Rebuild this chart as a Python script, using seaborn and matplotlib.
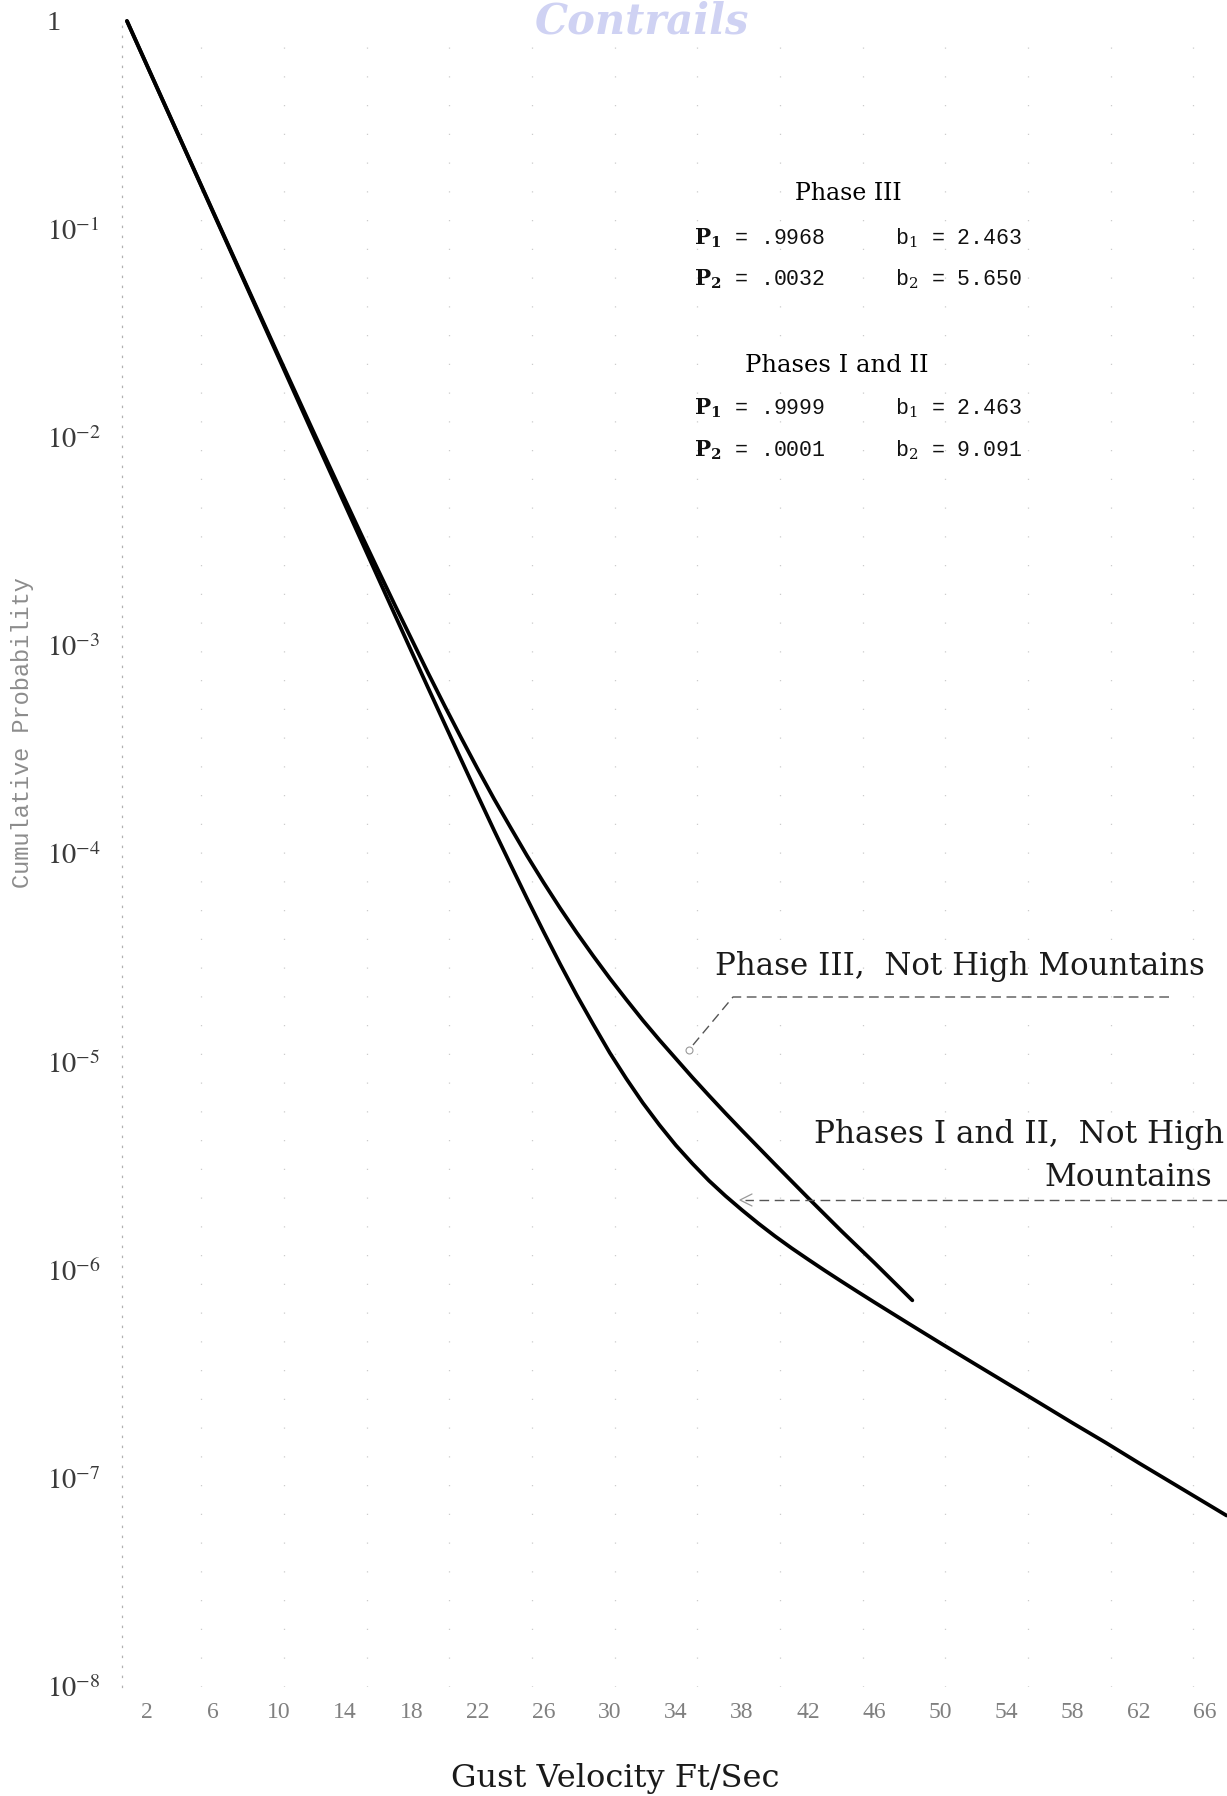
import numpy as np
import pandas as pd
import matplotlib
matplotlib.use("Agg")
import matplotlib.pyplot as plt
import seaborn as sns
from matplotlib.transforms import Affine2D
from matplotlib.lines import Line2D

# ---------------- data ----------------
velocity_phase3 = [0.8, 2, 4, 6, 8, 10, 12, 13, 14, 15, 16, 17, 18, 19, 20, 21, 22,
                   23, 24, 25, 26, 27, 28, 29, 30, 31, 32, 33, 34, 35, 36, 37, 38,
                   40, 42, 44, 46, 48.3]
prob_phase3 = [1.0, 0.615, 0.274, 0.122, 0.0545, 0.0244, 0.0110, 7.41e-3, 5.00e-3,
               3.38e-3, 2.30e-3, 1.57e-3, 1.08e-3, 7.43e-4, 5.17e-4, 3.63e-4,
               2.57e-4, 1.84e-4, 1.34e-4, 9.80e-5, 7.29e-5, 5.49e-5, 4.19e-5,
               3.24e-5, 2.53e-5, 2.00e-5, 1.59e-5, 1.28e-5, 1.04e-5, 8.45e-6,
               6.92e-6, 5.69e-6, 4.70e-6, 3.23e-6, 2.23e-6, 1.55e-6, 1.09e-6, 7.19e-7]

velocity_phase12 = [0.8, 2, 4, 6, 8, 10, 12, 14, 16, 17, 18, 19, 20, 21, 22, 23, 24,
                    25, 26, 27, 28, 29, 30, 31, 32, 33, 34, 35, 36, 37, 38, 39, 40,
                    41, 42, 43, 44, 45, 46, 48, 50, 52, 54, 56, 58, 60, 62, 64, 66,
                    67.3]
prob_phase12 = [1.0, 0.614, 0.273, 0.121, 0.0538, 0.0239, 0.0106, 4.73e-3, 2.11e-3,
                1.41e-3, 9.42e-4, 6.31e-4, 4.24e-4, 2.85e-4, 1.92e-4, 1.30e-4,
                8.89e-5, 6.10e-5, 4.23e-5, 2.96e-5, 2.10e-5, 1.52e-5, 1.11e-5,
                8.34e-6, 6.38e-6, 5.00e-6, 3.99e-6, 3.26e-6, 2.70e-6, 2.28e-6,
                1.95e-6, 1.68e-6, 1.46e-6, 1.28e-6, 1.13e-6, 1.00e-6, 8.88e-7,
                7.90e-7, 7.04e-7, 5.61e-7, 4.48e-7, 3.59e-7, 2.88e-7, 2.31e-7,
                1.85e-7, 1.49e-7, 1.19e-7, 9.56e-8, 7.68e-8, 6.66e-8]

x_ticks = [2, 6, 10, 14, 18, 22, 26, 30, 34, 38, 42, 46, 50, 54, 58, 62, 66]
y_ticks = [1, 1e-1, 1e-2, 1e-3, 1e-4, 1e-5, 1e-6, 1e-7, 1e-8]
y_tick_labels = ["1", "$10^{-1}$", "$10^{-2}$", "$10^{-3}$", "$10^{-4}$",
                 "$10^{-5}$", "$10^{-6}$", "$10^{-7}$", "$10^{-8}$"]

phase3_params = [("$\\mathbf{P}_{\\mathbf{1}}$ = .9968", "b$_{1}$ = 2.463"),
                 ("$\\mathbf{P}_{\\mathbf{2}}$ = .0032", "b$_{2}$ = 5.650")]
phase12_params = [("$\\mathbf{P}_{\\mathbf{1}}$ = .9999", "b$_{1}$ = 2.463"),
                  ("$\\mathbf{P}_{\\mathbf{2}}$ = .0001", "b$_{2}$ = 9.091")]

df3 = pd.DataFrame({"v": velocity_phase3, "p": prob_phase3})
df12 = pd.DataFrame({"v": velocity_phase12, "p": prob_phase12})

# ---------------- figure ----------------
sns.set_theme(style="white")
plt.rcParams["font.family"] = ["DejaVu Serif", "DejaVu Sans"]

W, H = 1227, 1796
fig = plt.figure(figsize=(W / 100, H / 100), dpi=100)
fig.patch.set_facecolor("white")
ax = fig.add_axes([122 / W, (H - 1687) / H, (W - 122) / W, (1687 - 21) / H])
ax.set_facecolor("white")

sns.lineplot(data=df3, x="v", y="p", ax=ax, color="black", lw=2.7,
             estimator=None, sort=False, clip_on=False)
sns.lineplot(data=df12, x="v", y="p", ax=ax, color="black", lw=2.7,
             estimator=None, sort=False, clip_on=False)

ax.set_yscale("log")
ax.set_xlim(0.5, 67.33)
ax.set_ylim(1e-8, 1)

for s in ["top", "right", "bottom"]:
    ax.spines[s].set_visible(False)
ax.spines["left"].set_visible(True)
ax.spines["left"].set_color("#b0b0b0")
ax.spines["left"].set_linewidth(0.9)
ax.spines["left"].set_linestyle((0, (1, 7)))

ax.set_xticks(x_ticks)
ax.set_xticklabels([str(t) for t in x_ticks], family="Liberation Serif",
                   fontsize=17, color="#808080")
ax.tick_params(axis="x", length=0, pad=11)

ax.set_yticks(y_ticks)
ax.set_yticks([], minor=True)
ax.set_yticklabels(y_tick_labels, family="Liberation Serif", fontsize=20.5,
                   color="#3a3a3a", ha="left")
for t in ax.get_yticklabels():
    t.set_math_fontfamily("stix")
ax.tick_params(axis="y", length=0, pad=54)

# faint dotted vertical grid remnants
ax.set_xticks(np.arange(5.3, 67, 5), minor=True)
ax.tick_params(axis="x", which="minor", length=0)
ax.grid(which="minor", axis="x", color="#cccccc", lw=0.9, linestyle=(0, (1, 22)))
ax.grid(which="major", visible=False)

ax.set_xlabel("Gust Velocity Ft/Sec", fontsize=23, color="#1a1a1a",
              family="DejaVu Serif", va="center")
ax.xaxis.set_label_coords((615 - 122) / 1105, (1687 - 1779) / 1666)
ax.set_ylabel("Cumulative Probability", fontsize=17, color="#8c8c8c",
              family="Liberation Mono", va="center")
ax.yaxis.set_label_coords((23 - 122) / 1105, (1687 - 733) / 1666)

# pixel transform (reference pixel coordinates, origin top-left)
pix = Affine2D().scale(1 / W, -1 / H).translate(0, 1) + fig.transFigure

# parameter block
fig.text(848, 200, "Phase III", transform=pix, fontsize=17, ha="center",
         va="baseline", color="#000000", family="DejaVu Serif")
for (ptxt, btxt), yb in zip(phase3_params, [244, 285]):
    fig.text(694, yb, ptxt, transform=pix, fontsize=15.5, ha="left", va="baseline",
             family="Liberation Mono", math_fontfamily="dejavuserif", color="#111111")
    fig.text(895, yb, btxt, transform=pix, fontsize=15.5, ha="left", va="baseline",
             family="Liberation Mono", math_fontfamily="dejavuserif", color="#111111")
fig.text(837, 372, "Phases I and II", transform=pix, fontsize=17.5, ha="center",
         va="baseline", color="#000000", family="DejaVu Serif")
for (ptxt, btxt), yb in zip(phase12_params, [414, 456]):
    fig.text(694, yb, ptxt, transform=pix, fontsize=15.5, ha="left", va="baseline",
             family="Liberation Mono", math_fontfamily="dejavuserif", color="#111111")
    fig.text(895, yb, btxt, transform=pix, fontsize=15.5, ha="left", va="baseline",
             family="Liberation Mono", math_fontfamily="dejavuserif", color="#111111")

# curve annotations
fig.text(1205, 966, "Phase III,  Not High Mountains", transform=pix, fontsize=22.2,
         ha="right", va="center", color="#1a1a1a", family="DejaVu Serif")
fig.text(1224, 1134, "Phases I and II,  Not High", transform=pix, fontsize=22.4,
         ha="right", va="center", color="#1a1a1a", family="DejaVu Serif")
fig.text(1212, 1177, "Mountains", transform=pix, fontsize=22.4,
         ha="right", va="center", color="#1a1a1a", family="DejaVu Serif")

lead_kw = dict(transform=pix, color="#555555", lw=1.0, linestyle=(0, (7, 4)))
fig.add_artist(Line2D([1169, 733, 693], [997, 997, 1045], **lead_kw))
fig.add_artist(Line2D([1227, 745], [1200, 1200], **lead_kw))
fig.add_artist(Line2D([689], [1050], transform=pix, marker="o", ms=5,
                      mfc="none", mec="#999999", mew=0.8, linestyle="none"))
fig.add_artist(Line2D([752, 740, 752], [1194, 1200, 1206], transform=pix,
                      color="#999999", lw=0.9))

# faded scan watermark at the top
fig.text(642, 1, "Contrails", transform=pix, fontsize=30, ha="center", va="top",
         style="italic", weight="bold", color="#cfd2f3", family="DejaVu Serif")

fig.savefig("out.png", dpi=100, facecolor="white")
